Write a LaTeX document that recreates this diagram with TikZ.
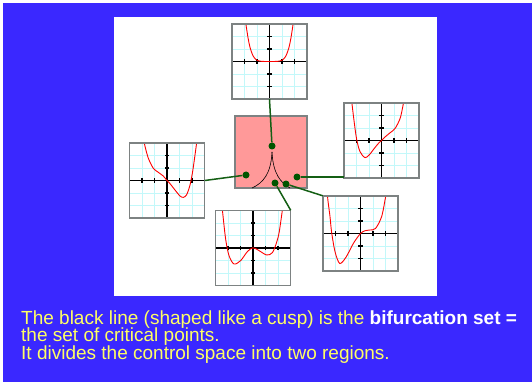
\documentclass[tikz,border=0pt]{standalone}
\usepackage{fontspec}
\setmainfont{Liberation Sans}
\definecolor{slideblue}{RGB}{58,40,255}
\definecolor{pinkfill}{RGB}{255,153,153}
\definecolor{dotgreen}{RGB}{0,85,0}
\definecolor{linkgreen}{RGB}{20,95,20}
\definecolor{gridcyan}{RGB}{195,248,250}
\definecolor{capyellow}{RGB}{255,255,100}
\definecolor{edgegray}{RGB}{125,130,130}

\tikzset{
    panel/.style={rectangle, fill=white, minimum size=75pt, inner sep=0pt},
    panelgrid/.style={draw=gridcyan, line width=0.7pt},
    paneledge/.style={draw=edgegray, line width=1.5pt},
    axis/.style={draw=black, line width=1.1pt},
    potcurve/.style={draw=red, line width=0.9pt},
}

% one potential graph drawn inside a panel node
\newcommand{\potpanel}[2]{%
  \begin{scope}[shift={(#1.center)}, x=12.5pt, y=12.5pt]
    \draw[panelgrid] (-3,-3) grid[step=1] (3,3);
    \draw[axis] (-3,0) -- (3,0);
    \draw[axis] (0,-3) -- (0,3);
    \foreach \t in {-3,-2,-1,1,2,3} {
      \draw[axis] (\t,-0.17) -- (\t,0.17);
      \draw[axis] (-0.17,\t) -- (0.17,\t);
    }
    \begin{scope}
      \clip (-3,-3) rectangle (3,3);
      \draw[potcurve] plot[smooth] coordinates {#2};
    \end{scope}
    \draw[paneledge] (-3,-3) rectangle (3,3);
  \end{scope}}

\begin{document}
\begin{tikzpicture}[
    x=1pt, y=-1pt,
    ctrlbox/.style={rectangle, draw=edgegray, line width=1.5pt, fill=pinkfill, minimum size=72pt, inner sep=0pt},
    dot/.style={circle, fill=dotgreen, minimum size=7pt, inner sep=0pt},
    link/.style={draw=linkgreen, line width=1.5pt},
    cuspline/.style={draw=black, line width=0.6pt},
    caption/.style={anchor=base west, inner sep=0pt, text=capyellow, font=\fontsize{19}{18}\selectfont},
]
\useasboundingbox (0,0) rectangle (532,382);
\fill[white] (0,0) rectangle (532,382);
\fill[slideblue] (3,3) rectangle (532,382);
\fill[white] (114,17) rectangle (437,296);

% graph panels
\node[panel] (pTop) at (269.5,61.5) {};
\node[panel] (pLeft) at (167,180.5) {};
\node[panel] (pRight) at (381.5,140.5) {};
\node[panel] (pBot) at (253,248) {};
\node[panel] (pBotR) at (360.5,233.5) {};

\potpanel{pTop}{(-2.0,3.8) (-1.86,2.8) (-1.7,1.8) (-1.55,1.1) (-1.3,0.42) (-1.0,0.1) (-0.6,0.01) (0,0) (0.6,0.01) (1.0,0.1) (1.3,0.42) (1.55,1.1) (1.7,1.8) (1.86,2.8) (2.0,3.8)}
\potpanel{pLeft}{(-1.9,3.4) (-1.75,2.7) (-1.49,1.77) (-1.09,0.97) (-0.69,0.65) (-0.3,0.36) (0,0) (0.24,-0.25) (0.64,-0.76) (1.04,-1.24) (1.31,-1.35) (1.57,-1.14) (1.84,-0.36) (2.05,0.71) (2.24,2.04) (2.37,3.0) (2.45,3.6)}
\potpanel{pRight}{(-2.45,3.6) (-2.37,3.0) (-2.2,1.6) (-1.99,0.1) (-1.72,-0.89) (-1.32,-1.37) (-0.98,-1.15) (-0.55,-0.6) (-0.2,-0.18) (0,0) (0.3,0.3) (0.69,0.62) (1.09,0.97) (1.49,1.77) (1.72,2.8) (1.85,3.5)}
\potpanel{pBot}{(-2.52,3.6) (-2.45,3.04) (-2.19,0.72) (-1.92,-0.61) (-1.52,-1.28) (-0.99,-1.01) (-0.45,-0.29) (0,0.02) (0.48,-0.21) (1.1,-0.56) (1.55,-0.37) (1.89,0.45) (2.1,1.3) (2.35,3.04) (2.42,3.6)}
\potpanel{pBotR}{(-2.7,3.6) (-2.6,2.6) (-2.44,1.35) (-2.31,0.1) (-2.04,-1.45) (-1.66,-2.4) (-1.15,-1.88) (-0.57,-0.79) (0,0) (0.36,0.22) (0.76,0.28) (1.2,0.4) (1.69,1.35) (2.01,2.95) (2.1,3.6)}

% control plane with the cusp
\node[ctrlbox] (ctrl) at (271,152) {};
\coordinate (cuspTip) at (272,152);
\coordinate (cuspL) at (252,188);
\coordinate (cuspR) at (290,188);
\draw[cuspline] (cuspTip) .. controls (271,174) and (263,183) .. (cuspL);
\draw[cuspline] (cuspTip) .. controls (273,174) and (281,183) .. (cuspR);

% sample points
\node[dot] (dTop) at (272,146) {};
\node[dot] (dLeft) at (246,175) {};
\node[dot] (dRight) at (297,177) {};
\node[dot] (dBot) at (275,183) {};
\node[dot] (dBotR) at (286,184) {};

\draw[link] (dTop) -- (pTop.south);
\draw[link] (dLeft) -- (pLeft.east);
\draw[link] (dRight) -- (dRight -| pRight.west);
\draw[link] (dBot) -- (pBot.north east);
\draw[link] (dBotR) -- (pBotR.north west);

\node[caption] (cap1) at (21,324) {The black line (shaped like a cusp) is the \textcolor{white}{\bfseries bifurcation set =}};
\node[caption] (cap2) at (21,341.5) {the set of critical points.};
\node[caption] (cap3) at (21,359.5) {It divides the control space into two regions.};
\end{tikzpicture}
\end{document}
